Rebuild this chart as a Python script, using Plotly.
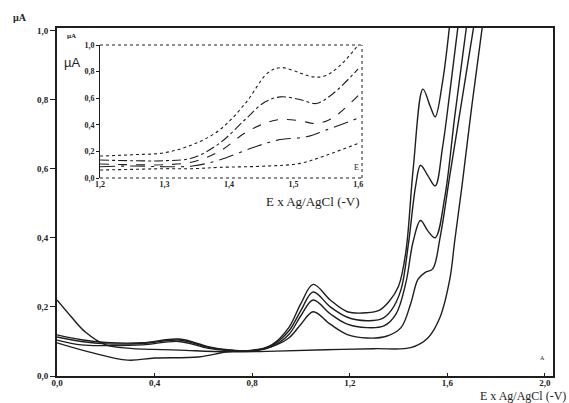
import plotly.graph_objects as go

# ---------------- data ----------------
main_x_ticks = [0.0, 0.4, 0.8, 1.2, 1.6, 2.0]
main_x_labels = ["0,0", "0,4", "0,8", "1,2", "1,6", "2,0"]
main_y_ticks = [0.0, 0.2, 0.4, 0.6, 0.8, 1.0]
main_y_labels = ["0,0", "0,2", "0,4", "0,6", "0,8", "1,0"]

inset_x_ticks = [1.2, 1.3, 1.4, 1.5, 1.6]
inset_x_labels = ["1,2", "1,3", "1,4", "1,5", "1,6"]
inset_y_ticks = [0.0, 0.2, 0.4, 0.6, 0.8, 1.0]
inset_y_labels = ["0,0", "0,2", "0,4", "0,6", "0,8", "1,0"]

# main voltammograms
c1_x = [0.0, 0.1, 0.2, 0.35, 0.5, 0.62, 0.7, 0.8, 0.88, 0.95, 1.0, 1.05, 1.12, 1.19, 1.27, 1.32, 1.36, 1.40, 1.43, 1.46, 1.50, 1.53, 1.55, 1.58, 1.61]
c1_y = [0.119, 0.105, 0.097, 0.096, 0.107, 0.085, 0.076, 0.073, 0.09, 0.14, 0.21, 0.265, 0.22, 0.186, 0.183, 0.19, 0.215, 0.26, 0.36, 0.60, 0.83, 0.78, 0.75, 0.85, 1.02]

c2_x = [0.0, 0.1, 0.2, 0.35, 0.5, 0.62, 0.7, 0.8, 0.88, 0.95, 1.0, 1.05, 1.12, 1.19, 1.27, 1.33, 1.37, 1.41, 1.44, 1.47, 1.49, 1.52, 1.55, 1.58, 1.61, 1.645]
c2_y = [0.113, 0.1, 0.093, 0.094, 0.104, 0.083, 0.075, 0.073, 0.088, 0.13, 0.19, 0.243, 0.2, 0.17, 0.16, 0.165, 0.19, 0.25, 0.38, 0.55, 0.61, 0.58, 0.55, 0.66, 0.82, 1.02]

c3_x = [0.0, 0.1, 0.2, 0.35, 0.5, 0.62, 0.7, 0.8, 0.88, 0.95, 1.0, 1.05, 1.12, 1.19, 1.27, 1.34, 1.39, 1.43, 1.46, 1.49, 1.52, 1.55, 1.59, 1.63, 1.68]
c3_y = [0.104, 0.09, 0.088, 0.09, 0.1, 0.08, 0.074, 0.072, 0.085, 0.12, 0.175, 0.22, 0.18, 0.15, 0.14, 0.145, 0.18, 0.27, 0.39, 0.45, 0.42, 0.40, 0.52, 0.75, 1.02]

c4_x = [0.0, 0.13, 0.29, 0.4, 0.58, 0.7, 0.8, 0.88, 0.95, 1.0, 1.05, 1.12, 1.19, 1.27, 1.35, 1.41, 1.45, 1.48, 1.51, 1.54, 1.57, 1.61, 1.66, 1.71]
c4_y = [0.096, 0.07, 0.046, 0.052, 0.055, 0.07, 0.075, 0.085, 0.11, 0.15, 0.186, 0.15, 0.12, 0.11, 0.115, 0.14, 0.21, 0.28, 0.30, 0.31, 0.40, 0.58, 0.80, 1.02]

blank_x = [0.0, 0.06, 0.115, 0.2, 0.3, 0.5, 0.7, 0.9, 1.1, 1.3, 1.45, 1.52, 1.57, 1.61, 1.63, 1.66, 1.70, 1.745]
blank_y = [0.22, 0.17, 0.128, 0.09, 0.08, 0.075, 0.07, 0.072, 0.076, 0.079, 0.082, 0.11, 0.17, 0.28, 0.39, 0.55, 0.78, 1.02]

# inset (zoom of 1.2 - 1.6 V)
i1_x = [1.2, 1.25, 1.3, 1.343, 1.385, 1.425, 1.46, 1.48, 1.51, 1.53, 1.55, 1.575, 1.6]
i1_y = [0.165, 0.175, 0.19, 0.25, 0.36, 0.56, 0.79, 0.83, 0.79, 0.76, 0.77, 0.86, 1.0]
i2_x = [1.2, 1.25, 1.3, 1.343, 1.385, 1.425, 1.455, 1.48, 1.51, 1.535, 1.56, 1.6]
i2_y = [0.135, 0.13, 0.13, 0.15, 0.26, 0.44, 0.57, 0.61, 0.59, 0.56, 0.63, 0.82]
i3_x = [1.2, 1.25, 1.3, 1.343, 1.385, 1.425, 1.455, 1.48, 1.51, 1.535, 1.56, 1.6]
i3_y = [0.105, 0.1, 0.1, 0.12, 0.2, 0.34, 0.41, 0.44, 0.43, 0.41, 0.45, 0.62]
i4_x = [1.2, 1.25, 1.3, 1.343, 1.385, 1.435, 1.475, 1.52, 1.55, 1.6]
i4_y = [0.085, 0.09, 0.085, 0.09, 0.135, 0.225, 0.285, 0.31, 0.36, 0.45]
i5_x = [1.2, 1.25, 1.3, 1.343, 1.385, 1.46, 1.51, 1.55, 1.6]
i5_y = [0.06, 0.065, 0.07, 0.07, 0.08, 0.09, 0.11, 0.17, 0.26]

# ---------------- figure ----------------
fig = go.Figure()
ink = "#1e1e1e"

for xs, ys in [(c1_x, c1_y), (c2_x, c2_y), (c3_x, c3_y), (c4_x, c4_y), (blank_x, blank_y)]:
    fig.add_trace(go.Scatter(x=xs, y=ys, mode="lines",
                             line=dict(color=ink, width=1.4, shape="spline", smoothing=1.0),
                             xaxis="x", yaxis="y", showlegend=False, hoverinfo="skip"))

inset_styles = ["dot", "dashdot", "dash", "longdashdot", "dot"]
for (xs, ys), dsh in zip([(i1_x, i1_y), (i2_x, i2_y), (i3_x, i3_y), (i4_x, i4_y), (i5_x, i5_y)], inset_styles):
    fig.add_trace(go.Scatter(x=xs, y=ys, mode="lines",
                             line=dict(color=ink, width=1.1, dash=dsh, shape="spline", smoothing=1.0),
                             xaxis="x2", yaxis="y2", showlegend=False, hoverinfo="skip"))

tickfont_main = dict(family="Liberation Serif", size=9, color="#222", weight="bold")
tickfont_inset = dict(family="Liberation Serif", size=8, color="#222", weight="bold")

W, H = 569, 403
L, R, T, B = 57, 16, 28, 27
pw, ph = W - L - R, H - T - B

def fx(px):
    return (px - L) / pw

def fy(py):
    return (H - B - py) / ph

fig.update_layout(
    width=W, height=H, autosize=False,
    margin=dict(l=L, r=R, t=T, b=B),
    paper_bgcolor="white", plot_bgcolor="white",
    xaxis=dict(range=[0, 2.033], tickvals=main_x_ticks, ticktext=main_x_labels,
               showgrid=False, zeroline=False, showline=True, linecolor=ink, linewidth=1.6,
               mirror=True, ticks="inside", ticklen=3, tickcolor=ink, tickfont=tickfont_main,
               ticklabelstandoff=-3),
    yaxis=dict(range=[0, 1.007], tickvals=main_y_ticks, ticktext=main_y_labels,
               showgrid=False, zeroline=False, showline=True, linecolor=ink, linewidth=1.8,
               mirror=True, ticks="outside", ticklen=5, tickcolor=ink, tickfont=tickfont_main),
    xaxis2=dict(domain=[fx(100), fx(362)], anchor="y2", range=[1.2, 1.606],
                tickvals=inset_x_ticks, ticktext=inset_x_labels,
                showgrid=False, zeroline=False, showline=False,
                ticks="", tickfont=tickfont_inset),
    yaxis2=dict(domain=[fy(178), fy(45)], anchor="x2", range=[0, 1.0],
                tickvals=inset_y_ticks, ticktext=inset_y_labels,
                showgrid=False, zeroline=False, showline=True, linecolor=ink, linewidth=1,
                ticks="outside", ticklen=3, tickcolor=ink, tickfont=tickfont_inset),
    shapes=[
        dict(type="line", xref="x2 domain", yref="y2 domain", x0=0, x1=1, y0=1, y1=1,
             line=dict(color=ink, width=1, dash="dot")),
        dict(type="line", xref="x2 domain", yref="y2 domain", x0=0, x1=1, y0=0, y1=0,
             line=dict(color=ink, width=1, dash="dot")),
        dict(type="line", xref="x2 domain", yref="y2 domain", x0=1, x1=1, y0=0, y1=1,
             line=dict(color=ink, width=1, dash="dot")),
    ],
    annotations=[
        dict(text="µA", xref="paper", yref="paper", x=fx(11), y=fy(17), xanchor="left", yanchor="middle",
             showarrow=False, font=dict(family="Liberation Serif", size=10, color="#222", weight="bold")),
        dict(text="E x Ag/AgCl (-V)", xref="paper", yref="paper", x=fx(568), y=fy(396),
             xanchor="right", yanchor="middle", showarrow=False,
             font=dict(family="Liberation Serif", size=12, color="#222")),
        dict(text="µA", xref="paper", yref="paper", x=fx(62), y=fy(62), xanchor="left", yanchor="middle",
             showarrow=False, font=dict(family="Liberation Sans", size=13, color="#222")),
        dict(text="µA", xref="paper", yref="paper", x=fx(65), y=fy(36), xanchor="left", yanchor="middle",
             showarrow=False, font=dict(family="Liberation Serif", size=7, color="#222", weight="bold")),
        dict(text="E x Ag/AgCl (-V)", xref="paper", yref="paper", x=fx(362), y=fy(201),
             xanchor="right", yanchor="middle", showarrow=False,
             font=dict(family="Liberation Serif", size=13, color="#222")),
        dict(text="E", xref="paper", yref="paper", x=fx(356), y=fy(168), xanchor="center", yanchor="middle",
             showarrow=False, font=dict(family="Liberation Serif", size=8, color="#222")),
        dict(text="A", xref="paper", yref="paper", x=fx(542), y=fy(358), xanchor="center", yanchor="middle",
             showarrow=False, font=dict(family="Liberation Serif", size=6, color="#222")),
    ],
)

fig.write_html("out.html", config={"displayModeBar": False},
               post_script="document.body.style.margin='0px';document.body.style.overflow='hidden';")
